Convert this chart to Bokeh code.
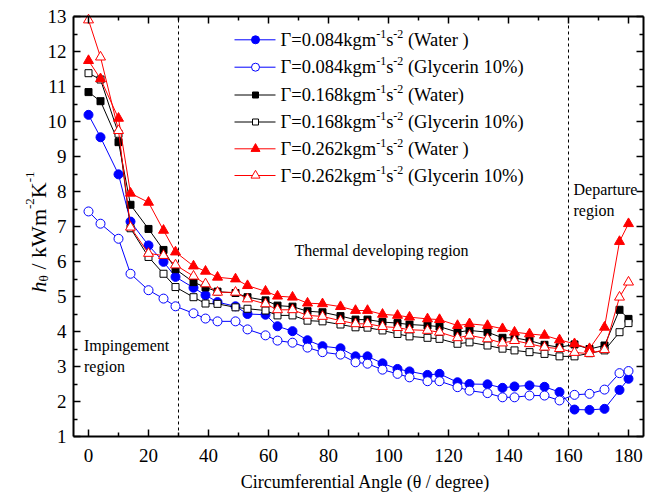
import math
from bokeh.plotting import figure
from bokeh.models import FixedTicker, LinearAxis, Range1d, Label
from bokeh.embed import file_html
from bokeh.resources import INLINE
from bokeh.core.properties import value

# ---------------- data ----------------
angle = [0, 4, 10, 14, 20, 25, 29, 35, 39, 43, 49, 53, 59, 63, 68, 73, 78, 84, 89,
         93, 98, 103, 107, 113, 117, 123, 127, 133, 138, 142, 147, 152, 157, 162,
         167, 172, 177, 180]

h_084_water = [10.19, 9.55, 8.49, 7.14, 6.46, 5.99, 5.56, 5.25, 5.04, 4.84, 4.72, 4.50,
               4.48, 4.15, 4.01, 3.75, 3.58, 3.52, 3.29, 3.29, 3.09, 2.93, 2.86, 2.76,
               2.79, 2.55, 2.50, 2.49, 2.39, 2.43, 2.46, 2.42, 2.27, 1.77, 1.76, 1.79,
               2.33, 2.65]
h_084_gly = [7.43, 7.08, 6.65, 5.65, 5.18, 4.94, 4.72, 4.52, 4.37, 4.29, 4.29, 4.06,
             3.89, 3.74, 3.68, 3.54, 3.41, 3.34, 3.12, 3.08, 2.91, 2.79, 2.69, 2.58,
             2.58, 2.41, 2.31, 2.24, 2.12, 2.12, 2.17, 2.17, 2.03, 2.19, 2.22, 2.34,
             2.81, 2.87]
h_168_water = [10.84, 10.58, 9.41, 7.62, 6.93, 6.33, 5.78, 5.41, 5.26, 5.14, 5.10, 4.98,
               4.89, 4.74, 4.71, 4.58, 4.55, 4.44, 4.34, 4.34, 4.27, 4.24, 4.20, 4.17,
               4.14, 3.98, 4.03, 3.98, 3.82, 3.82, 3.74, 3.62, 3.55, 3.63, 3.50, 3.60,
               4.62, 4.36]
h_168_gly = [11.38, 11.20, 9.65, 6.95, 6.13, 5.65, 5.27, 4.98, 4.80, 4.79, 4.69, 4.65,
             4.60, 4.46, 4.46, 4.31, 4.29, 4.20, 4.12, 4.11, 4.03, 3.93, 3.86, 3.82,
             3.79, 3.65, 3.69, 3.60, 3.51, 3.46, 3.41, 3.36, 3.29, 3.29, 3.38, 3.46,
             3.98, 4.24]
h_262_water = [11.74, 11.22, 10.09, 7.95, 7.69, 6.89, 6.27, 5.87, 5.72, 5.55, 5.50, 5.31,
               5.15, 5.01, 4.98, 4.81, 4.79, 4.71, 4.60, 4.60, 4.49, 4.46, 4.41, 4.36,
               4.34, 4.17, 4.22, 4.17, 4.08, 3.98, 3.93, 3.89, 3.76, 3.65, 3.51, 4.12,
               6.57, 7.08]
h_262_gly = [12.90, 11.84, 9.74, 6.98, 6.23, 6.17, 5.90, 5.58, 5.36, 5.12, 5.12, 4.93,
             4.79, 4.62, 4.62, 4.46, 4.43, 4.31, 4.22, 4.22, 4.14, 4.11, 4.05, 4.03,
             3.98, 3.82, 3.89, 3.79, 3.67, 3.74, 3.65, 3.55, 3.51, 3.40, 3.37, 3.48,
             4.98, 5.41]

flow_rates = ["0.084", "0.084", "0.168", "0.168", "0.262", "0.262"]
fluids = ["(Water )", "(Glycerin 10%)", "(Water)", "(Glycerin 10%)", "(Water )", "(Glycerin 10%)"]
x_ticks = [0, 20, 40, 60, 80, 100, 120, 140, 160, 180]
y_ticks = [1, 2, 3, 4, 5, 6, 7, 8, 9, 10, 11, 12, 13]
x_bounds = (-5, 185)
y_bounds = (1, 13)
region_bounds = [30, 160]

series = [h_084_water, h_084_gly, h_168_water, h_168_gly, h_262_water, h_262_gly]
styles = [
    dict(marker="circle", color="#0000FF", fill="#0000FF", size=9),
    dict(marker="circle", color="#0000FF", fill="white", size=9),
    dict(marker="square", color="black", fill="black", size=7),
    dict(marker="square", color="black", fill="white", size=7),
    dict(marker="triangle", color="#FF0000", fill="#FF0000", size=10),
    dict(marker="triangle", color="#FF0000", fill="white", size=10),
]

FONT = "Liberation Serif"
W, H = 656, 493
PX_X = 3.0     # px per degree
PX_Y = 35.0    # px per unit of h
X0_PX = 88.0   # page x of angle 0
Y13_PX = 16.0  # page y of h = 13

def dx(px):   # page x -> data x
    return (px - X0_PX) / PX_X

def dy(py):   # page y -> data y
    return 13 - (py - Y13_PX) / PX_Y

p = figure(width=W, height=H, x_range=Range1d(dx(0), dx(W)), y_range=Range1d(dy(H), dy(0)),
           output_backend="svg", toolbar_location=None,
           min_border=0, min_border_left=0, min_border_right=0,
           min_border_top=0, min_border_bottom=0)
p.xgrid.visible = False
p.ygrid.visible = False
p.outline_line_color = None
p.background_fill_color = "white"
p.border_fill_color = "white"

xt = FixedTicker(ticks=x_ticks, minor_ticks=[t + 10 for t in x_ticks[:-1]])
yt = FixedTicker(ticks=y_ticks, minor_ticks=[t + 0.5 for t in y_ticks[:-1]])

def style_axis(ax, labels=True):
    ax.axis_line_width = 2
    ax.axis_line_color = "black"
    ax.major_tick_in = 7
    ax.major_tick_out = 0
    ax.minor_tick_in = 4
    ax.minor_tick_out = 0
    ax.major_tick_line_width = 1.5
    ax.minor_tick_line_width = 1.5
    ax.major_tick_line_color = "black"
    ax.minor_tick_line_color = "black"
    if labels:
        ax.major_label_text_font = FONT
        ax.major_label_text_font_size = "19px"
        ax.major_label_text_color = "black"
    else:
        ax.major_label_text_font_size = "0px"

bottom = p.xaxis[0]
left = p.yaxis[0]
bottom.ticker = xt
left.ticker = yt
bottom.fixed_location = y_bounds[0]
left.fixed_location = x_bounds[0]
bottom.bounds = x_bounds
left.bounds = y_bounds
style_axis(bottom)
style_axis(left)
bottom.major_label_standoff = 12
left.major_label_standoff = 7

top = LinearAxis(ticker=xt, fixed_location=y_bounds[1], bounds=x_bounds)
right = LinearAxis(ticker=yt, fixed_location=x_bounds[1], bounds=y_bounds)
style_axis(top, False)
style_axis(right, False)
top.major_label_overrides = {t: "" for t in x_ticks}
right.major_label_overrides = {t: "" for t in y_ticks}
p.add_layout(top, "above")
p.add_layout(right, "right")

# region boundaries (dotted verticals spanning the axes box)
p.segment(x0=region_bounds, y0=[y_bounds[0]] * 2, x1=region_bounds, y1=[y_bounds[1]] * 2,
          line_color="black", line_width=1, line_dash="3 3")

for ys, st in zip(series, styles):
    p.line(angle, ys, line_color=st["color"], line_width=1)
    p.scatter(angle, ys, marker=st["marker"], size=st["size"], line_color=st["color"],
              fill_color=st["fill"], line_width=1)

# ------------- legend (manual, for superscripts) -------------
TW = {'Γ': 578, '=': 564, '.': 250, 'k': 500, 'g': 500, 'm': 778, 's': 389, '-': 333,
      ' ': 250, '(': 333, ')': 333, 'h': 500, 'θ': 500, '/': 278, 'W': 944, 'K': 722}

def tw(s, size):
    return sum(TW.get(c, 500) for c in s) / 1000.0 * size

LF, SF = 18.5, 12
row_py = [39.3, 66.7, 94.5, 121.5, 148.3, 175.0]
for i, st in enumerate(styles):
    ry = dy(row_py[i])
    p.line([dx(234), dx(275)], [ry, ry], line_color=st["color"], line_width=1)
    p.scatter([dx(255)], [ry], marker=st["marker"], size=st["size"] - 1,
              line_color=st["color"], fill_color=st["fill"], line_width=1)
    # (text, size, raise_px, gap_before_px)
    pieces = [("Γ=" + flow_rates[i] + "kgm", LF, 0, 0), ("-1", SF, 6, 0), ("s", LF, 0, 0),
              ("-2", SF, 6, 0), (fluids[i], LF, 0, tw(" ", LF))]
    xx = 280.0
    for txt, fs, up, gap in pieces:
        xx += gap
        p.text(x=[dx(xx)], y=[ry + up / PX_Y], text=[txt], text_font=value(FONT),
               text_font_size=value(f"{fs}px"), text_baseline="middle",
               text_align="left", text_color="black")
        xx += tw(txt, fs)

# ------------- annotations -------------
def add_label(x, y, txt, size=16, align="left", baseline="middle", style="normal", ang=0.0):
    p.add_layout(Label(x=x, y=y, text=txt, text_font=FONT, text_font_size=f"{size}px",
                       text_align=align, text_baseline=baseline, text_font_style=style,
                       angle=ang, text_color="black"))

add_label(dx(381), dy(250), "Thermal developing region", align="center")
add_label(dx(83.5), dy(345), "Impingement")
add_label(dx(83.5), dy(366), "region")
add_label(dx(573), dy(189), "Departure")
add_label(dx(573), dy(210), "region")

# x axis title
add_label(dx(365), dy(481), "Circumferential Angle (θ / degree)", size=18, align="center")

# y axis title, rotated, built from pieces (text, size, baseline page-x, style, gap_before)
YF, YS = 22, 13
ypieces = [("h", YF, 38, "italic", 0), ("θ", YS, 43, "normal", 0),
           ("/", YF, 38, "normal", tw(" ", YF)), ("kWm", YF, 38, "normal", tw(" ", YF)),
           ("-2", YS, 29.5, "normal", 0), ("K", YF, 38, "normal", 0),
           ("-1", YS, 29.5, "normal", 0)]
yy = 292.0
for txt, fs, bx, stl, gap in ypieces:
    yy -= gap
    add_label(dx(bx), dy(yy), txt, size=fs, baseline="alphabetic", style=stl, ang=math.pi / 2)
    yy -= tw(txt, fs)

open("out.html", "w").write(file_html(p, INLINE))
